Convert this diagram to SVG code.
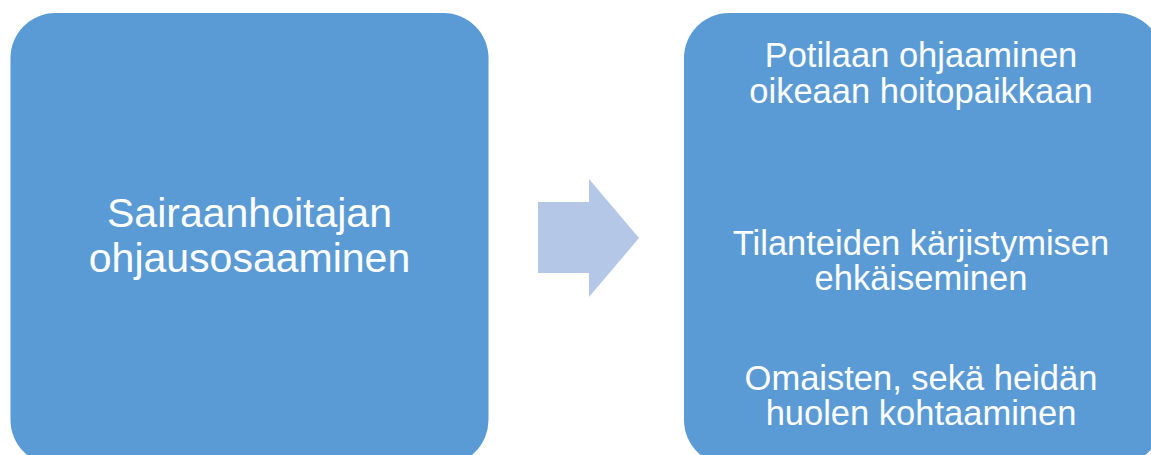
<svg xmlns="http://www.w3.org/2000/svg" width="1151" height="455" viewBox="0 0 1151 455">
  <style>
    .box { fill: #5B9BD5; }
    .arrow { fill: #B4C7E7; }
    .lbl { fill: #FFFFFF; font-family: "Liberation Sans", Arial, sans-serif; text-anchor: middle; }
    .big { font-size: 41px; }
    .small { font-size: 34.5px; }
  </style>
  <rect width="1151" height="455" fill="#FFFFFF"/>
  <g id="node-left">
    <rect class="box" x="10.5" y="13" width="478" height="452" rx="45" ry="45"/>
    <text class="lbl big" x="249.5" y="227">Sairaanhoitajan</text>
    <text class="lbl big" x="249.5" y="272">ohjausosaaminen</text>
  </g>
  <g id="connectors">
    <polygon class="arrow" points="538,202 589,202 589,179 639,238 589,297 589,273 538,273"/>
  </g>
  <g id="node-right">
    <rect class="box" x="684" y="13" width="478" height="452" rx="45" ry="45"/>
    <text class="lbl small" x="921" y="67">Potilaan ohjaaminen</text>
    <text class="lbl small" x="921" y="103">oikeaan hoitopaikkaan</text>
    <text class="lbl small" x="921" y="255">Tilanteiden kärjistymisen</text>
    <text class="lbl small" x="921" y="290">ehkäiseminen</text>
    <text class="lbl small" x="921" y="390">Omaisten, sekä heidän</text>
    <text class="lbl small" x="921" y="425">huolen kohtaaminen</text>
  </g>
</svg>
